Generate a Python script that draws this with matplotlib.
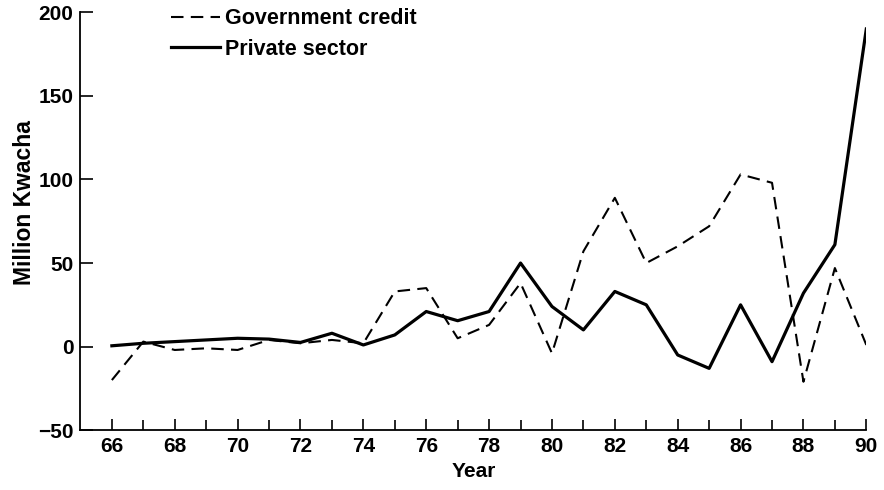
import numpy as np
import matplotlib.pyplot as plt

# --- Data ---
years = np.arange(66, 91)
government = [-20, 3, -2, -1, -2, 4, 2, 4, 2, 33, 35, 5, 13, 38, -4,
              57, 89, 50, 60, 72, 103, 98, -21, 47, 1]
private = [0.5, 2, 3, 4, 5, 4.5, 2.5, 8, 1, 7, 21, 15.5, 21, 50, 24,
           10, 33, 25, -5, -13, 25, -9, 32, 61, 190]
tick_years = list(range(66, 91, 2))
y_ticks = [-50, 0, 50, 100, 150, 200]

plt.rcParams['font.family'] = ['Liberation Sans', 'DejaVu Sans']
plt.rcParams['font.weight'] = 'bold'

fig = plt.figure(figsize=(8.84, 4.90), dpi=100)
ax = fig.add_axes([0.091, 0.122, 0.889, 0.853])

ax.plot(years, government, color='black', lw=1.5, ls=(0, (6, 3.5)),
        label='Government credit')
ax.plot(years, private, color='black', lw=2.3, label='Private sector')

ax.set_xlim(65, 90)
ax.set_ylim(-50, 200)
ax.set_xticks(years, minor=True)
ax.set_xticks(tick_years)
ax.set_yticks(y_ticks)
ax.set_yticklabels(['\u221250'] + [str(v) for v in y_ticks[1:]])
ax.tick_params(axis='both', which='both', direction='in', width=1.2,
               labelsize=15, color='black')
ax.tick_params(axis='x', which='major', length=8, pad=5)
ax.tick_params(axis='x', which='minor', length=7)
ax.tick_params(axis='y', length=9, pad=5)

for s in ['top', 'right']:
    ax.spines[s].set_visible(False)
for s in ['left', 'bottom']:
    ax.spines[s].set_linewidth(1.3)

ax.set_xlabel('Year', fontsize=15, fontweight='bold', labelpad=4)
ax.set_ylabel('Million Kwacha', fontsize=16.5, fontweight='bold')
ax.yaxis.set_label_coords(-0.056, 0.545)

ax.legend(loc='upper left', bbox_to_anchor=(0.09, 1.056), frameon=False,
          fontsize=15.5, handlelength=2.3, handletextpad=0.25, labelspacing=0.45)

fig.savefig('out.png', dpi=100)
